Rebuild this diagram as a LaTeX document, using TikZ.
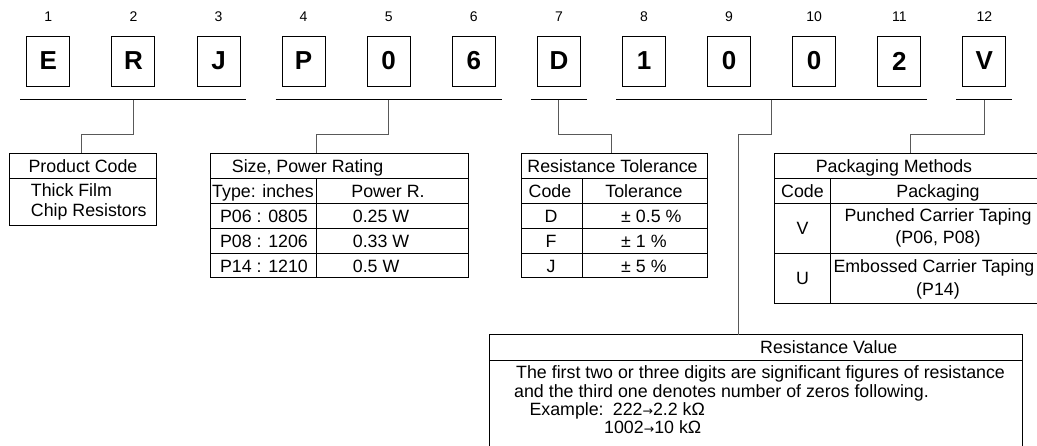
\documentclass[tikz,border=0pt]{standalone}
\usepackage{fontspec}
\setmainfont{Liberation Sans}
\newfontfamily\arrowfont{DejaVu Sans}
\colorlet{stub color}{black!65}
\newcommand{\valarrow}{{\arrowfont\fontsize{12.5}{12.5}\selectfont →}}
\tikzset{
    x={1pt},
    y={-1pt},
    code letter/.style={
        draw, fill=white,
        line width={0.9pt},
        minimum width={43},
        minimum height={50},
        inner sep=0pt,
        font={\fontsize{26}{26}\selectfont\bfseries},
    },
    code number/.style={
        inner sep=0pt,
        font={\fontsize{14}{14}\selectfont},
    },
    group line/.style={
        draw=black,
        line width={0.9pt},
    },
    stub/.style={
        draw=stub color,
        line width={1pt},
    },
    table frame/.style={
        draw=black,
        line width={0.8pt},
    },
    cell/.style={
        inner sep=0pt,
        anchor=base,
        font={\fontsize{17.8}{21}\selectfont},
    },
    cell left/.style={
        cell,
        anchor=base west,
    },
}

\begin{document}
\begin{tikzpicture}
\useasboundingbox (0,0) rectangle (1037,446);
\clip (0,0) rectangle (1037,446);
% code letters
\foreach \sym [count=\i] in {E,R,J,P,0,6,D,1,0,0,2,V} {
    \node[code letter] (c\i) at ({48.3+85.1*(\i-1)},61) {\sym};
    \node[code number] (n\i) at ({48.3+85.1*(\i-1)},16.7) {\i};
}
% group lines
\foreach \a/\b/\g in {1/3/1, 4/6/2, 7/7/3, 8/11/4, 12/12/5}
    \draw[group line] ([shift={(-6,13.3)}]c\a.south west) -- coordinate[midway] (m\g) ([shift={(6,13.3)}]c\b.south east);
% product code
\draw[table frame] (9.3,153.3) rectangle (156.7,225);
\draw[table frame] (9.3,178.3) -- (156.7,178.3);
\coordinate (t1) at (81.7,153.3);
\node[cell] (prodtitle) at (83,172.8) {Product Code};
\node[cell left] (prodline1) at (30.7,196.5) {Thick Film};
\node[cell left] (prodline2) at (30.7,216.5) {Chip Resistors};
% size, power rating
\draw[table frame] (210,153.3) rectangle (468,277.7);
\foreach \y in {178.3,203.3,228.3,253.3}
    \draw[table frame] (210,\y) -- (468,\y);
\draw[table frame] (316.7,178.3) -- (316.7,277.7);
\coordinate (t2) at (316.7,153.3);
\node[cell left] (sizetitle) at (231.7,172.8) {Size, Power Rating};
\node[cell] (sizetype) at (263,197.8) {Type: inches};
\node[cell] (sizepower) at (388,197.8) {Power R.};
\foreach \t/\w/\y [count=\k] in {P06 : 0805/0.25 W/222.8, P08 : 1206/0.33 W/247.8, P14 : 1210/0.5 W/272.2} {
    \node[cell] (sizet\k) at (264,\y) {\t};
    \node[cell left] (sizew\k) at (352.7,\y) {\w};
}
% resistance tolerance
\draw[table frame] (521.7,153.3) rectangle (707.7,277.7);
\foreach \y in {178.3,203.3,228.3,253.3}
    \draw[table frame] (521.7,\y) -- (707.7,\y);
\draw[table frame] (582.7,178.3) -- (582.7,277.7);
\coordinate (t3) at (611.7,153.3);
\node[cell] (toltitle) at (612.5,172.8) {Resistance Tolerance};
\node[cell] (tolcode) at (550,197.8) {Code};
\node[cell] (tolhead) at (644,197.8) {Tolerance};
\foreach \c/\v/\y [count=\k] in {D/{± 0.5 \%}/222.8, F/{± 1 \%}/247.8, J/{± 5 \%}/272.2} {
    \node[cell] (tolc\k) at (551,\y) {\c};
    \node[cell left] (tolv\k) at (621,\y) {\v};
}
% packaging methods
\draw[table frame] (774.3,153.3) rectangle (1046,303.3);
\foreach \y in {178.3,203.3,253.3}
    \draw[table frame] (774.3,\y) -- (1046,\y);
\draw[table frame] (830.5,178.3) -- (830.5,303.3);
\coordinate (t5) at (910,153.3);
\node[cell] (packtitle) at (894,172.8) {Packaging Methods};
\node[cell] (packcode) at (802.5,197.8) {Code};
\node[cell] (packhead) at (938,197.8) {Packaging};
\node[cell] (packv) at (802.5,234.5) {V};
\node[cell] (packv1) at (938,222) {Punched Carrier Taping};
\node[cell] (packv2) at (938,244) {(P06, P08)};
\node[cell] (packu) at (802.5,284.5) {U};
\node[cell left] (packu1) at (833.3,272.5) {Embossed Carrier Taping};
\node[cell] (packu2) at (938,296) {(P14)};
% resistance value
\draw[table frame] (489,334.7) rectangle (1022.7,460);
\draw[table frame] (489,360) -- (1022.7,360);
\coordinate (t4) at (738.3,334.7);
\node[cell] (valtitle) at (828.8,354) {Resistance Value};
\node[cell left] (valline1) at (516,379) {The first two or three digits are significant figures of resistance};
\node[cell left] (valline2) at (514,398) {and the third one denotes number of zeros following.};
\node[cell left] (exlabel) at (529.3,416) {Example:};
\node[cell left] (exone) at (612.7,416) {222\valarrow2.2 kΩ};
\node[cell left] (extwo) at (604,434) {1002\valarrow10 kΩ};
% stubs
\foreach \g in {1,...,5}
    \draw[stub] (m\g) -- ++(0,34.3) -| (t\g);
\end{tikzpicture}
\end{document}
